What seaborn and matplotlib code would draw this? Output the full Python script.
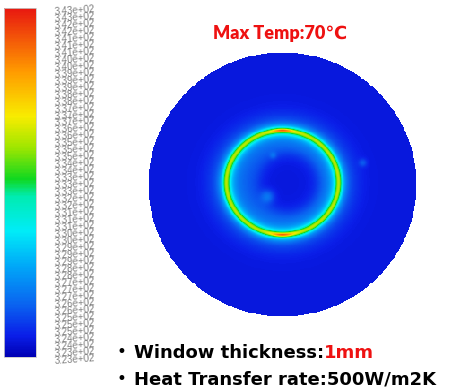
import matplotlib
matplotlib.use("Agg")
import matplotlib.pyplot as plt
from matplotlib.colors import LinearSegmentedColormap
import seaborn as sns
import numpy as np

# Temperature scale of the contour plot (K)
t_min = 323.0
t_max = 343.0
tick_values = np.linspace(t_max, t_min, 51)
tick_labels = [f"{v:.2e}" for v in tick_values]

# Colour stops of the legend bar, bottom to top
cmap_positions = [0.0, 0.06, 0.15, 0.26, 0.36, 0.46, 0.51, 0.60, 0.69, 0.82, 1.0]
cmap_colors = ["#0000b4", "#0a1ee8", "#0a64f0", "#00a8f8", "#00ecf8", "#00ecb0",
               "#10d820", "#9ee600", "#f8ec00", "#ff9a00", "#e81810"]

# Disc temperature description (disc radius = 1)
base_temp = 324.0
ring_center = (0.0, 0.015)
ring_radii = (0.42, 0.395)
ring_peak = 4.8
ring_width = 0.024
hot_spot_extra = 5.5
hot_spot_width = 0.012
halo_amps = (4.0, 2.0)
halo_widths = (0.05, 0.13)
inner_amp = 1.4
core_center = (0.05, 0.01)
core_radius = 0.23
small_spots = [(-0.11, -0.09, 2.2, 0.05), (0.60, 0.165, 1.6, 0.03), (-0.07, 0.22, 1.2, 0.025)]

max_temp_text = "Max Temp:70℃"
line1 = ("Window thickness:", "1mm")
line2 = "Heat Transfer rate:500W/m2K"

n = 300
xs = np.linspace(-1, 1, n)
ys = np.linspace(1, -1, n)
X, Y = np.meshgrid(xs, ys)

rho = np.sqrt(((X - ring_center[0]) / ring_radii[0]) ** 2 + ((Y - ring_center[1]) / ring_radii[1]) ** 2)
d = (rho - 1.0) * 0.41
theta = np.arctan2(Y - ring_center[1], X - ring_center[0])
hot = np.exp(-((np.abs(theta) - np.pi / 2) / 0.2) ** 2)
rc = np.sqrt((X - core_center[0]) ** 2 + (Y - core_center[1]) ** 2)

T = np.full_like(X, base_temp)
T += ring_peak * np.exp(-(d / ring_width) ** 2)
T += hot_spot_extra * hot * np.exp(-(d / hot_spot_width) ** 2)
for amp, w in zip(halo_amps, halo_widths):
    T += amp * np.exp(-(d / w) ** 2)
T += inner_amp / (1 + np.exp((rho - 1) / 0.03)) * (1 - np.exp(-(rc / core_radius) ** 6))
for sx, sy, amp, w in small_spots:
    T += amp * np.exp(-((X - sx) ** 2 + (Y - sy) ** 2) / w ** 2)
T = np.clip(T, t_min, t_max)

mask = (X ** 2 + Y ** 2) > 1.0

cmap = LinearSegmentedColormap.from_list("fluent", list(zip(cmap_positions, cmap_colors)))

fig = plt.figure(figsize=(4.61, 3.90), dpi=100)
fig.patch.set_facecolor("white")
ax = fig.add_axes([148 / 461, (390 - 317) / 390, 269 / 461, 265 / 390])
cax = fig.add_axes([4 / 461, (390 - 357) / 390, 32 / 461, 349 / 390])

sns.heatmap(T, mask=mask, cmap=cmap, vmin=t_min, vmax=t_max, ax=ax, cbar_ax=cax,
            xticklabels=False, yticklabels=False, rasterized=True)
ax.set_facecolor("white")
for s in ax.spines.values():
    s.set_visible(False)

cbar = ax.collections[0].colorbar
cbar.set_ticks(tick_values)
cbar.set_ticklabels(tick_labels)
cbar.ax.tick_params(length=0, labelsize=7, colors="#808080", pad=13)
for lab in cbar.ax.get_yticklabels():
    lab.set_family("Liberation Sans")
    lab.set_rotation(4)
cbar.outline.set_edgecolor("#c8c8c8")
cbar.outline.set_linewidth(0.6)

fig.text(213 / 461, 1 - 39 / 390, max_temp_text, color="#ee1111", fontsize=13,
         fontweight="heavy", family=["Lato", "DejaVu Sans"], va="baseline")

bottom_font = "DejaVu Sans"
y1 = 1 - 358 / 390
y2 = 1 - 385 / 390
for yy in (y1, y2):
    fig.text(121 / 461, yy + 6 / 390, "•", fontsize=12, color="black", family=bottom_font,
             ha="center", va="center")
t1 = fig.text(134 / 461, y1, line1[0], fontsize=13, fontweight="bold", family=bottom_font,
              color="black", va="baseline")
fig.add_artist(plt.Annotation(line1[1], xy=(1, 0), xycoords=t1, va="bottom", ha="left",
                              fontsize=13, fontweight="bold", family=bottom_font, color="#ee1111"))
fig.text(134 / 461, y2, line2, fontsize=13, fontweight="bold", family=bottom_font,
         color="black", va="baseline")

fig.savefig("out.png", dpi=100)
plt.close(fig)
